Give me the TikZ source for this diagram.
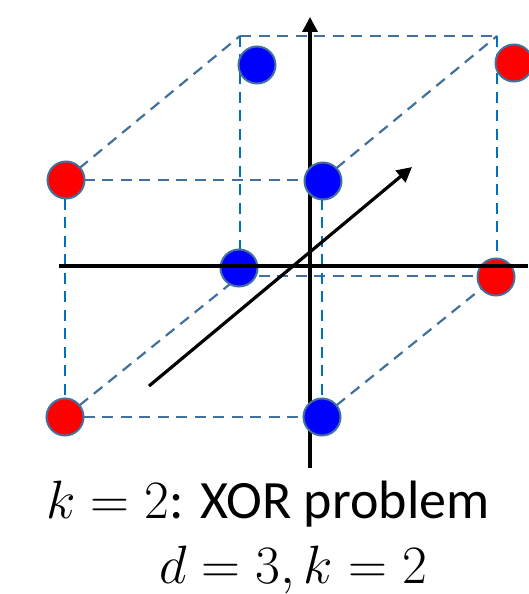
\RequirePackage{fix-cm}
\documentclass[tikz,border=0pt]{standalone}
\usepackage[no-math]{fontspec}
\newfontfamily\calibri{Carlito}
\usetikzlibrary{arrows.meta}
\definecolor{edgeA}{HTML}{41719C}
\definecolor{edgeB}{HTML}{0070C0}
\definecolor{ptblue}{HTML}{0000FF}
\definecolor{ptred}{HTML}{FF0000}
\begin{document}
\begin{tikzpicture}[x=1pt,y=-1pt,
  cubeedge/.style={edgeA,line width=2.2pt,dash pattern=on 11pt off 7.5pt},
  cubevert/.style={edgeB,line width=2.2pt,dash pattern=on 11pt off 7.5pt},
  axisline/.style={line width=3.2pt,black},
  arrowtip/.style={-{Triangle[length=15pt,width=15pt]}},
  pt/.style={circle,draw=edgeA,line width=2pt,minimum size=37pt,inner sep=0pt},
  bluept/.style={pt,fill=ptblue},
  redpt/.style={pt,fill=ptred},
  lbl/.style={anchor=base,inner sep=0pt,font=\fontsize{54}{60}\selectfont}]
\useasboundingbox (0,0) rectangle (528,594);
% cube corners
\coordinate (fTL) at (65,180);
\coordinate (fTR) at (322,180);
\coordinate (fBL) at (65,417);
\coordinate (fBR) at (322,417);
\coordinate (bTL) at (240,36);
\coordinate (bTR) at (497,36);
\coordinate (bBL) at (240,276);
\coordinate (bBR) at (497,276);
% horizontal and depth edges
\draw[cubeedge] (fTL) -- (fTR);
\draw[cubeedge] (fBL) -- (fBR);
\draw[cubeedge] (bTL) -- (bTR);
\draw[cubeedge] (bBL) -- (bBR);
\draw[cubeedge] (fTL) -- (bTL);
\draw[cubeedge] (fTR) -- (bTR);
\draw[cubeedge] (fBL) -- (bBL);
\draw[cubeedge] (fBR) -- (bBR);
% vertical edges
\draw[cubevert] (fTL) -- (fBL);
\draw[cubevert] (fTR) -- (fBR);
\draw[cubevert] (bTL) -- (bBL);
\draw[cubevert] (bTR) -- (bBR);
% back points
\node[bluept] (p1) at (257,65) {};
\node[redpt]  (p2) at (514,63) {};
\node[bluept] (p3) at (239,268) {};
\node[redpt]  (p4) at (496,277) {};
% axes
\coordinate (yb) at (310,468);
\coordinate (yt) at (310,17);
\coordinate (xl) at (59,266);
\coordinate (xr) at (528,266);
\coordinate (as) at (149,386);
\coordinate (ae) at (412,167);
\draw[axisline] (xl) -- (xr);
\draw[axisline,arrowtip] (yb) -- (yt);
\draw[axisline,arrowtip] (as) -- (ae);
% front points
\node[redpt]  (p5) at (66,180) {};
\node[bluept] (p6) at (323,181) {};
\node[redpt]  (p7) at (65,417) {};
\node[bluept] (p8) at (322,417) {};
% labels
\node[lbl] (t1) at (268,518) {$k=2${\calibri : XOR problem}};
\node[lbl] (t2) at (293,583) {$d=3,k=2$};
\end{tikzpicture}
\end{document}
